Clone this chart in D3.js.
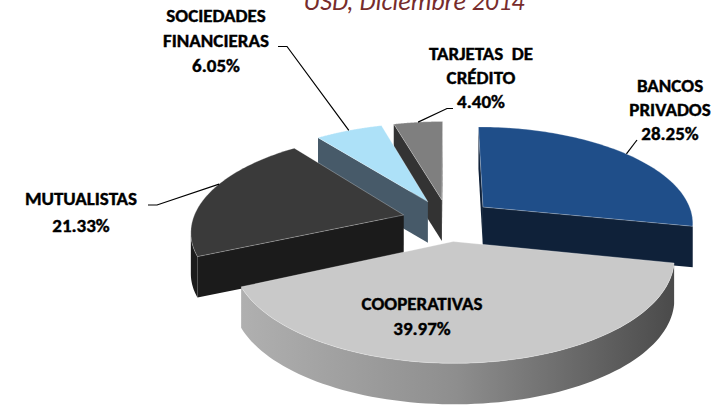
<!DOCTYPE html>
<html>
<head>
<meta charset="utf-8">
<script src="https://cdnjs.cloudflare.com/ajax/libs/d3/7.8.5/d3.min.js"></script>
<style>
  body { margin: 0; background: #fff; }
  svg { display: block; font-family: Calibri, Carlito, Lato, sans-serif; }
</style>
</head>
<body>
<div id="chart"></div>
<script>
// data
const categories = ["BANCOS PRIVADOS", "COOPERATIVAS", "MUTUALISTAS", "SOCIEDADES FINANCIERAS", "TARJETAS DE CRÉDITO"];
const shares = [28.25, 39.97, 21.33, 6.05, 4.40];
const labelLines = [["BANCOS", "PRIVADOS"], ["COOPERATIVAS"], ["MUTUALISTAS"], ["SOCIEDADES", "FINANCIERAS"], ["TARJETAS  DE", "CRÉDITO"]];
const titleText = "USD, Diciembre 2014";

const width = 727, height = 409;

// colours
const topColors = ["#1f4e89", "#c9c9c9", "#3a3a3a", "#ade1f8", "#7f7f7f"];
const sideColors = ["#0f2139", "url(#coopSide)", "#1b1b1b", "#475a69", "#333333"];

// 3d look of the pie
const cx = 448, cy = 220;      // centre on screen
const kx = 211, kz = 96;       // radius across / radius in depth
const persp = 0.152;           // perspective strength
const depth = 41;              // thickness in px
const explode = 0.218;         // explosion, fraction of radius
const camZ = 1 / persp;

// label layout
const labelPos = [
    {x: 670, y: 92, dy: 24},
    {x: 422, y: 310, dy: 25},
    {x: 81, y: 205, dy: 27},
    {x: 216, y: 22, dy: 25},
    {x: 481, y: 60, dy: 24}
];
const leaders = [
    {pts: [[637, 140]], frac: 0.5},
    null,
    {pts: [[148, 205], [157, 205]], frac: 0.58},
    {pts: [[278, 46.5], [287, 46.5]], frac: 0.5},
    {pts: [[453, 108.5], [447, 108.5]], frac: 0.5}
];

const svg = d3.select("#chart").append("svg")
    .attr("width", width)
    .attr("height", height);

const grad = svg.append("defs").append("linearGradient")
    .attr("id", "coopSide")
    .attr("gradientUnits", "userSpaceOnUse")
    .attr("x1", 240).attr("x2", 672).attr("y1", 0).attr("y2", 0);
grad.append("stop").attr("offset", "0%").attr("stop-color", "#b0b0b0");
grad.append("stop").attr("offset", "50%").attr("stop-color", "#8e8e8e");
grad.append("stop").attr("offset", "100%").attr("stop-color", "#4b4b4b");

// world (X right, Z towards viewer) -> screen
function project(X, Z) {
    const f = 1 / (1 - persp * Z);
    return [cx + kx * X * f, cy + kz * Z * f];
}

const pie = d3.pie().sort(null).value(d => d);
const arcs = pie(shares).map((a, i) => {
    const mid = (a.startAngle + a.endAngle) / 2;
    const ox = explode * Math.sin(mid), oz = -explode * Math.cos(mid);
    return {i: i, s: a.startAngle, e: a.endAngle, mid: mid, ox: ox, oz: oz};
});

function worldPt(a, t, r) {
    return [a.ox + r * Math.sin(t), a.oz - r * Math.cos(t)];
}
function screenPt(a, t, r) {
    const w = worldPt(a, t, r);
    return project(w[0], w[1]);
}
const down = p => [p[0], p[1] + depth];
const line = d3.line();

function facing(nx, nz, px, pz) {
    return nx * (0 - px) + nz * (camZ - pz) > 0;
}

// paint back slices first
const order = arcs.slice().sort((a, b) => a.oz - b.oz);

order.forEach(a => {
    const g = svg.append("g");
    const v = screenPt(a, 0, 0);
    const steps = 80;
    const ts = d3.range(steps + 1).map(k => a.s + (a.e - a.s) * k / steps);

    // radial walls
    [[a.s, -1], [a.e, 1]].forEach(([t, sgn]) => {
        const nx = sgn * Math.cos(t), nz = sgn * Math.sin(t);
        const m = worldPt(a, t, 0.5);
        if (facing(nx, nz, m[0], m[1])) {
            const p = screenPt(a, t, 1);
            g.append("path")
                .attr("d", line([v, p, down(p), down(v)]) + "Z")
                .attr("fill", sideColors[a.i]);
        }
    });

    // outer curved wall
    const vis = ts.filter(t => {
        const w = worldPt(a, t, 1);
        return facing(Math.sin(t), -Math.cos(t), w[0], w[1]);
    });
    if (vis.length > 1) {
        const topArc = vis.map(t => screenPt(a, t, 1));
        const pts = topArc.concat(topArc.slice().reverse().map(down));
        g.append("path")
            .attr("d", line(pts) + "Z")
            .attr("fill", sideColors[a.i]);
    }

    // top face
    const topPts = [v].concat(ts.map(t => screenPt(a, t, 1)));
    g.append("path")
        .attr("d", line(topPts) + "Z")
        .attr("fill", topColors[a.i])
        .attr("stroke", "rgba(255,255,255,0.35)")
        .attr("stroke-width", 0.8);
});

// leader lines
arcs.forEach(a => {
    const ld = leaders[a.i];
    if (!ld) return;
    const t = a.s + (a.e - a.s) * ld.frac;
    const pts = ld.pts.concat([screenPt(a, t, 1)]);
    svg.append("path")
        .attr("d", line(pts))
        .attr("fill", "none")
        .attr("stroke", "#000")
        .attr("stroke-width", 1.2);
});

// labels
arcs.forEach(a => {
    const pos = labelPos[a.i];
    const txt = svg.append("text")
        .attr("text-anchor", "middle")
        .attr("font-weight", "bold")
        .attr("font-size", 19)
        .attr("fill", "#000")
        .attr("stroke", "#000")
        .attr("stroke-width", 0.4);
    const lines = labelLines[a.i].concat([d3.format(".2f")(shares[a.i]) + "%"]);
    lines.forEach((l, k) => {
        txt.append("tspan")
            .attr("x", pos.x)
            .attr("y", pos.y + k * pos.dy)
            .attr("xml:space", "preserve")
            .text(l);
    });
});

// title (cut off at the top, as in the source)
svg.append("text")
    .attr("x", 414)
    .attr("y", 10)
    .attr("text-anchor", "middle")
    .attr("font-style", "italic")
    .attr("font-size", 26)
    .attr("fill", "#772c2c")
    .text(titleText);
</script>
</body>
</html>
